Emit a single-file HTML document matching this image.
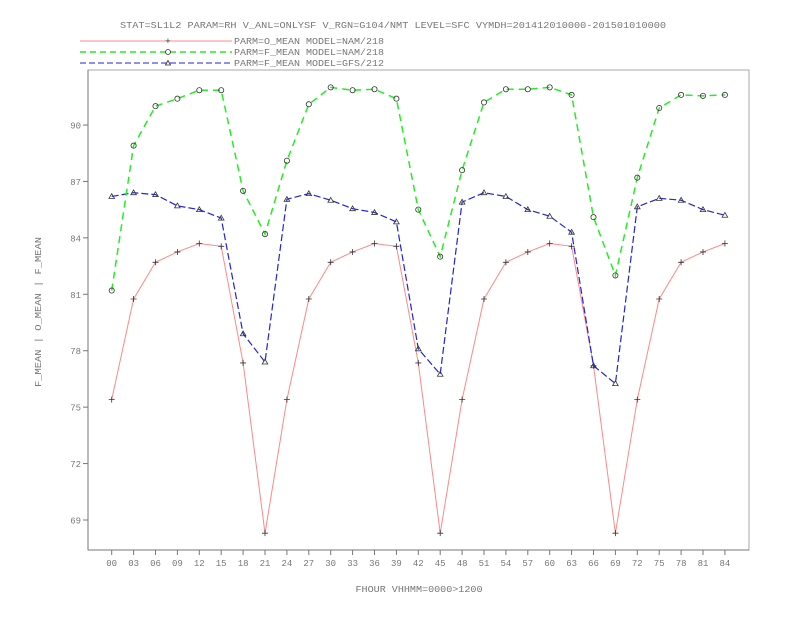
<!DOCTYPE html>
<html><head><meta charset="utf-8"><style>
html,body{margin:0;padding:0;background:#fff;}
svg text{font-family:"Liberation Mono",monospace;fill:#777;font-size:9px;}
</style></head><body>
<svg id="chart" width="792" height="612" viewBox="0 0 792 612" xmlns="http://www.w3.org/2000/svg">
<text x="393" y="28" text-anchor="middle" textLength="546" lengthAdjust="spacingAndGlyphs">STAT=SL1L2 PARAM=RH V_ANL=ONLYSF V_RGN=G104/NMT LEVEL=SFC VYMDH=201412010000-201501010000</text>
<g>
<g>
<line x1="80" y1="41" x2="232" y2="41" stroke="#f88" stroke-width="1"/>
<text x="168" y="44" text-anchor="middle" style="fill:#333">+</text>
<text x="234" y="44" textLength="150" lengthAdjust="spacingAndGlyphs">PARM=O_MEAN MODEL=NAM/218</text></g>
<g>
<line x1="80" y1="52" x2="232" y2="52" stroke="#2e2" stroke-width="1.5" stroke-dasharray="6,4"/>
<circle cx="168" cy="52" r="2.5" fill="none" stroke="#333" stroke-width="0.8"/>
<text x="234" y="55" textLength="150" lengthAdjust="spacingAndGlyphs">PARM=F_MEAN MODEL=NAM/218</text></g>
<g>
<line x1="80" y1="63" x2="232" y2="63" stroke="#22d" stroke-width="1" stroke-dasharray="6,3"/>
<path d="M165.5,65 L168,60.5 L170.5,65 Z" fill="none" stroke="#333" stroke-width="0.8"/>
<text x="234" y="66" textLength="150" lengthAdjust="spacingAndGlyphs">PARM=F_MEAN MODEL=GFS/212</text></g>
</g>
<rect x="88" y="70" width="661" height="480" fill="none" stroke="#aaa" stroke-width="1"/>
<line x1="88" y1="70" x2="88" y2="550" stroke="#777"/>
<line x1="88" y1="550" x2="749" y2="550" stroke="#777"/>
<g id="yticks"></g>
<g id="xticks"></g>
<g id="series"></g>
<text x="419" y="592" text-anchor="middle" textLength="127" lengthAdjust="spacingAndGlyphs">FHOUR VHHMM=0000&gt;1200</text>
<text transform="translate(41,312) rotate(-90)" text-anchor="middle" textLength="150" lengthAdjust="spacingAndGlyphs">F_MEAN | O_MEAN | F_MEAN</text>
</svg>
<script>
const categories = ["00","03","06","09","12","15","18","21","24","27","30","33","36","39","42","45","48","51","54","57","60","63","66","69","72","75","78","81","84"];
const yTicks = [69,72,75,78,81,84,87,90];
const oMeanNam = [75.4,80.75,82.7,83.25,83.7,83.55,77.35,68.3,75.4,80.75,82.7,83.25,83.7,83.55,77.35,68.3,75.4,80.75,82.7,83.25,83.7,83.55,77.2,68.3,75.4,80.75,82.7,83.25,83.7];
const fMeanNam = [81.2,88.9,91.0,91.4,91.85,91.85,86.5,84.2,88.1,91.1,92.0,91.85,91.9,91.4,85.5,83.0,87.6,91.2,91.9,91.9,92.0,91.6,85.1,82.0,87.2,90.9,91.6,91.55,91.6];
const fMeanGfs = [86.2,86.4,86.3,85.7,85.5,85.05,78.9,77.4,86.05,86.35,86.0,85.55,85.35,84.85,78.1,76.75,85.9,86.4,86.2,85.5,85.15,84.3,77.2,76.25,85.65,86.1,86.0,85.5,85.2];

const NS="http://www.w3.org/2000/svg";
function xScale(i){return 111.7+i*21.9;}
function yScale(v){return 520-(v-69)*18.81;}
function mk(tag,attrs,parent){const e=document.createElementNS(NS,tag);for(const k in attrs)e.setAttribute(k,attrs[k]);parent.appendChild(e);return e;}
const yt=document.getElementById('yticks');
yTicks.forEach(v=>{
  const y=yScale(v);
  const l=mk('line',{x1:83,y1:y,x2:88,y2:y,stroke:'#777'},yt);
  
  
  const t=mk('text',{x:81,y:y+3.5,'text-anchor':'end'},yt);
  t.textContent=v;
  
  
});
const xt=document.getElementById('xticks');
categories.forEach((c,i)=>{
  const x=xScale(i);
  const l=mk('line',{x1:x,y1:550,x2:x,y2:555,stroke:'#777'},xt);
  
  
  const t=mk('text',{x:x,y:566,'text-anchor':'middle'},xt);
  t.textContent=c;
  
  
});
const sg=document.getElementById('series');
function drawSeries(vals,color,width,dash,marker,name){
  const g=mk('g',{},sg);
  
  
  const pts=vals.map((v,i)=>xScale(i)+','+yScale(v)).join(' ');
  const a={points:pts,fill:'none',stroke:color,'stroke-width':width};
  if(dash)a['stroke-dasharray']=dash;
  const pl=mk('polyline',a,g);
  
  
  vals.forEach((v,i)=>{
    const x=xScale(i),y=yScale(v);let m;
    if(marker==='plus'){m=mk('path',{d:`M${x-3},${y}H${x+3}M${x},${y-3}V${y+3}`,stroke:'#333','stroke-width':0.8},g);}
    else if(marker==='circle'){m=mk('circle',{cx:x,cy:y,r:2.6,fill:'none',stroke:'#333','stroke-width':0.8},g);}
    else {m=mk('path',{d:`M${x-2.8},${y+2} L${x},${y-2.8} L${x+2.8},${y+2} Z`,fill:'none',stroke:'#333','stroke-width':0.8},g);}
    
    
  });
}
drawSeries(oMeanNam,'#f88',1,null,'plus','series-o-mean-nam');
drawSeries(fMeanGfs,'#22d',1.2,'7,3','triangle','series-f-mean-gfs');
drawSeries(fMeanNam,'#2e2',1.5,'7,5','circle','series-f-mean-nam');
</script>
</body></html>
